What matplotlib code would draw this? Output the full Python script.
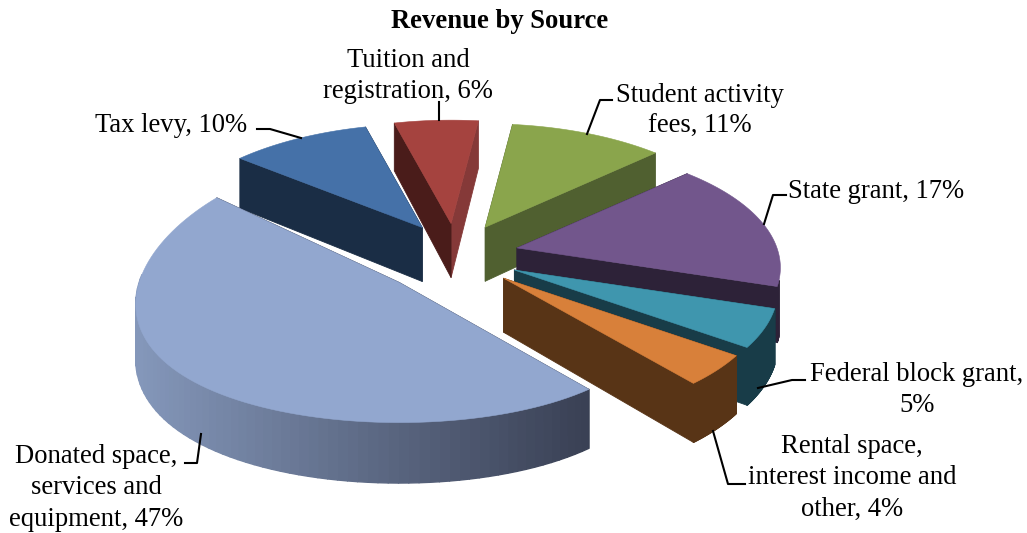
"""Revenue by Source: exploded 3D pie, drawn with plain polygons in pixel space."""
import numpy as np
import matplotlib
matplotlib.use("Agg")
import matplotlib.pyplot as plt
from matplotlib.colors import to_rgb

plt.rcParams["font.family"] = ["Liberation Serif", "DejaVu Serif"]

# clockwise from the first slice
sources = ["Student activity\nfees", "State grant", "Federal block grant,\n",
           "Rental space,\ninterest income and\nother", "Donated space,\nservices and\nequipment",
           "Tax levy", "Tuition and\nregistration"]
shares = [11, 17, 5, 4, 47, 10, 6]

title = "Revenue by Source"

tops = ["#8aa54c", "#72568c", "#3f96ae", "#d8803a", "#92a7cf", "#4571a8", "#a5433f"]
cut_near = ["#506030", "#2d2238", "#183c48", "#583416", "#2d3448", "#1a2d45", "#4a1c1a"]
cut_far = ["#506030", "#2d2238", "#183c48", "#583416", "#2d3448", "#1a2d45", "#853938"]
outer_l = ["#506030", "#2d2238", "#183c48", "#583416", "#8497ba", "#1a2d45", "#4a1c1a"]
outer_r = ["#506030", "#2d2238", "#183c48", "#583416", "#3a4155", "#1a2d45", "#853938"]

# per-slice corrections to the pie geometry, px and ratios
nudge_x = [7, 1, -3, -4, 3, 4, 4]
nudge_y = [0, 2, 1, 0, 3, -1, -1]
squash = [1, 1, 1, 1, 1.133, 1, 1]
persp_y = [0.16, 0.16, 0.16, 0.16, 0.03, 0.16, 0.16]

# pie geometry, px
START = 7.0
CX, CY = 451, 253
RX, RY = 260, 120
PERSP = 0.16
EXPLODE_X, EXPLODE_Y = 69, 33
DEPTH = 54

label_xy = [(700, 111), (876, 191), (917, 390), (852, 478), (96, 488), (171, 126), (408, 76)]
leaders = [[(612, 100), (600, 100), (587, 134)],
           [(786, 195), (773, 195), (764, 224)],
           [(758, 388), (792, 380), (805, 380)],
           [(713, 431), (728, 484), (745, 484)],
           [(185, 463), (197, 463), (201, 434)],
           [(257, 129), (270, 129), (301, 138)],
           [(439, 102), (439, 120)]]


def _proj(deg, scale=1.0, persp_v=PERSP):
    t = np.radians(deg)
    u, v = np.sin(t), np.cos(t)
    return RX * u / (1 + PERSP * v), -RY * scale * v / (1 + persp_v * v)


def _drop(deg):
    return DEPTH * (1 - 0.12 * np.cos(np.radians(deg)))


def _quad(ax, p, q, dp, dq, color, lw=0.6):
    pts = [p, q, (q[0], q[1] + dq), (p[0], p[1] + dp)]
    ax.fill(*zip(*pts), color=color, lw=lw, joinstyle="round")


def _slice(ax, a0, a1, i):
    mx, my = _proj((a0 + a1) / 2)
    ox = CX + EXPLODE_X * mx / RX + nudge_x[i]
    oy = CY + EXPLODE_Y * my / RY + nudge_y[i]
    angs = np.linspace(a0, a1, 90)
    arc = [(ox + x, oy + y) for x, y in (_proj(a, squash[i], persp_y[i]) for a in angs)]
    apex = (ox, oy)

    # cut faces, the one higher on screen first
    cuts = [(arc[0], _drop(a0), cut_near[i]), (arc[-1], _drop(a1), cut_far[i])]
    for pt, d, c in sorted(cuts, key=lambda k: k[0][1]):
        _quad(ax, apex, pt, DEPTH, d, c)

    # outer wall, shaded left to right
    c_l, c_r = np.array(to_rgb(outer_l[i])), np.array(to_rgb(outer_r[i]))
    for j in range(len(angs) - 1):
        cos_a = np.cos(np.radians(angs[j]))
        if cos_a > (0.05 if i == 4 else -0.25):
            continue
        f = np.clip((arc[j][0] - 140) / 445, 0, 1)
        col = c_l + (c_r - c_l) * f if i == 4 else c_l
        _quad(ax, arc[j], arc[j + 1], _drop(angs[j]), _drop(angs[j + 1]), col, lw=1.0)

    ax.fill(*zip(apex, *arc), color=tops[i], lw=0.4)


fig = plt.figure(figsize=(10.27, 5.33), dpi=100)
ax = fig.add_axes([0, 0, 1, 1])
ax.set_xlim(0, 1027)
ax.set_ylim(533, 0)
ax.axis("off")

edges = START + np.cumsum([0] + shares) * 3.6
order = sorted(range(len(shares)), key=lambda i: -np.cos(np.radians((edges[i] + edges[i + 1]) / 2)))
for i in order:
    _slice(ax, edges[i], edges[i + 1], i)

for pts in leaders:
    ax.plot(*zip(*pts), color="black", lw=1.5, solid_joinstyle="round")

for name, share, (x, y) in zip(sources, shares, label_xy):
    text = f"{name}{share}%" if name.endswith("\n") else f"{name}, {share}%"
    ax.text(x, y, text, ha="center", va="center", fontsize=19.2, color="black", linespacing=1.32)

ax.text(500, 21, title, ha="center", va="center", fontsize=19.2, fontweight="bold", color="black")

fig.savefig("out.png", dpi=100, facecolor="white")
